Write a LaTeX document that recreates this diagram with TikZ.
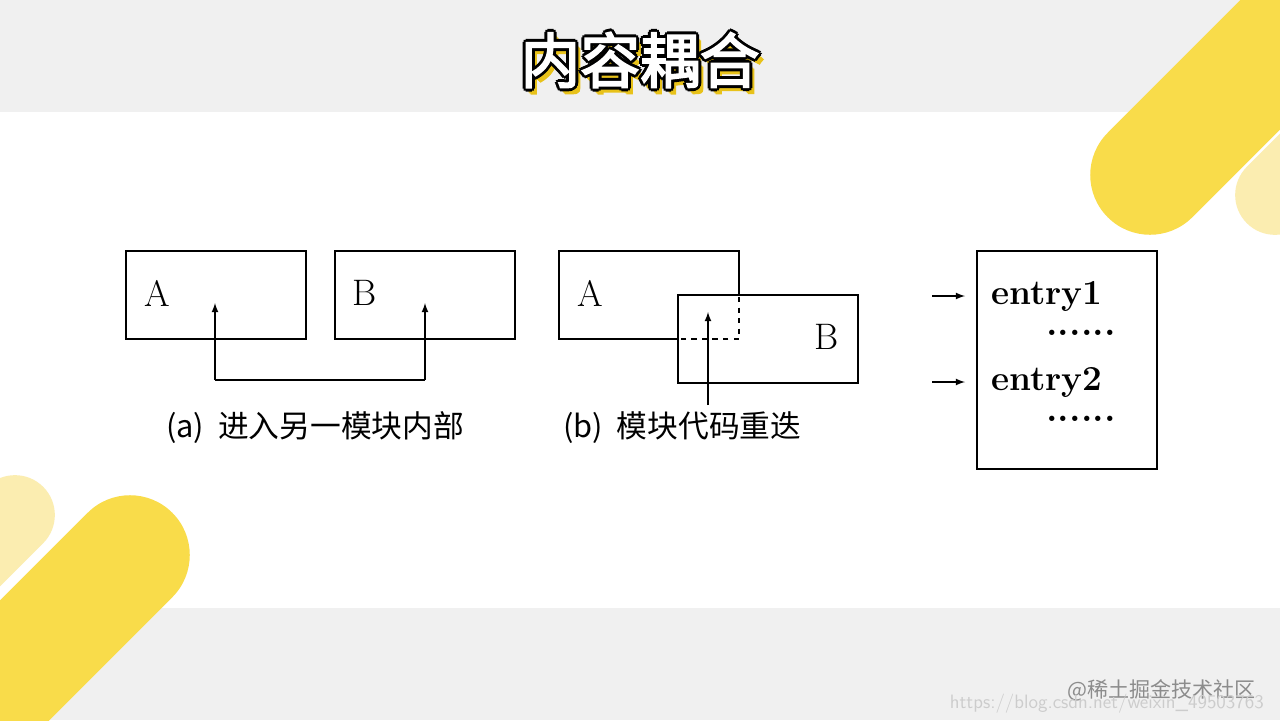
\documentclass[tikz,border=0pt]{standalone}
\usepackage{fontspec}
\usepackage{tikz}
\newfontfamily\cjk{Noto Sans CJK SC}
\newfontfamily\cjkbold{Noto Sans CJK SC}[BoldFont=*,BoldFeatures={FakeBold=3}]
\definecolor{bandgray}{HTML}{F0F0F0}
\definecolor{stripe}{HTML}{F9DC4A}
\definecolor{stripelight}{HTML}{FBEDB0}
\definecolor{shadowyellow}{HTML}{E8C21A}
\tikzset{
  modbox/.style={draw, line width=1.6pt, fill=white},
  lbl/.style={font=\fontsize{21}{21}\selectfont},
  captext/.style={font=\cjk\fontsize{17.5}{17.5}\selectfont, anchor=west},
  link/.style={line width=0.8pt, -latex},
  titletext/.style={font=\cjkbold\bfseries\fontsize{34}{34}\selectfont},
}
\begin{document}
\begin{tikzpicture}[x=0.02cm, y=-0.02cm]
          % background
          \fill [white] (0,0) rectangle (1280,720);
          \fill [bandgray] (0,0) rectangle (1280,112);
          \fill [bandgray] (0,608) rectangle (1280,720);
          \begin{scope}
            \clip (0,0) rectangle (1280,720);
            \draw [stripelight, line width=80pt*0.567, line cap=round] (1275,195) -- (1400,70);
            \draw [stripe, line width=120pt*0.567, line cap=round] (1150,175) -- (1330,-5);
            \draw [stripelight, line width=80pt*0.567, line cap=round] (15,515) -- (-100,630);
            \draw [stripe, line width=120pt*0.567, line cap=round] (130,555) -- (-60,745);
          \end{scope}
          % title
          \foreach \dx/\dy in {3/4,4/5,5/6} {
            \node [shadowyellow, titletext] at (640+\dx,60+\dy) {内容耦合};
          }
          \foreach \dx/\dy in {-3/0,3/0,0/-3,0/3,-2/-2,2/2,-2/2,2/-2} {
            \node [black, titletext] at (640+\dx,60+\dy) {内容耦合};
          }
          \node (title) [white, titletext] at (640,60) {内容耦合};
          % (a)
          \node (aA) [modbox, minimum width=3.6cm, minimum height=1.76cm] at (216,295) {};
          \node (aB) [modbox, minimum width=3.6cm, minimum height=1.76cm] at (425,295) {};
          \node [lbl] at (157,293) {A};
          \node [lbl] at (365,293) {B};
          \coordinate (aL) at (215,380);
          \coordinate (aR) at (425,380);
          \draw [link] (aL) -- (215,303);
          \draw [line width=0.8pt] (aL) -- (aR);
          \draw [link] (aR) -- (425,303);
          \node (capa) [captext] at (160,428) {(a)\ \ 进入另一模块内部};
          % (b)
          \node (bA) [modbox, minimum width=3.6cm, minimum height=1.76cm] at (649,295) {};
          \node (bB) [modbox, minimum width=3.6cm, minimum height=1.76cm] at (768,339) {};
          \draw [dashed, line width=1pt] (739,297) -- (739,339) -- (679,339);
          \node [lbl] at (590,293) {A};
          \node [lbl] at (827,337) {B};
          \coordinate (bS) at (708,405);
          \draw [link] (bS) -- (708,312);
          \node (capb) [captext] at (557,428) {(b)\ \ 模块代码重迭};
          % entries
          \node (cE) [modbox, minimum width=3.6cm, minimum height=4.36cm] at (1067,360) {};
          \node (e1) [lbl, anchor=west, font=\bfseries\fontsize{20}{20}\selectfont] at (985,296) {entry1};
          \node [lbl] at (1081,333) {\bfseries......};
          \node (e2) [lbl, anchor=west, font=\bfseries\fontsize{20}{20}\selectfont] at (985,382) {entry2};
          \node [lbl] at (1081,419) {\bfseries......};
          \coordinate (p1) at (932,296);
          \coordinate (p2) at (932,382);
          \draw [line width=0.8pt, -latex] (p1) -- ([xshift=-0.4cm]e1.west);
          \draw [line width=0.8pt, -latex] (p2) -- ([xshift=-0.4cm]e2.west);
          % watermark
          \node [black!45, font=\cjk\fontsize{12}{12}\selectfont, anchor=east] at (1262,690) {@稀土掘金技术社区};
          \node [black!20, font=\sffamily\fontsize{11}{11}\selectfont, anchor=east] at (1270,704) {https://blog.csdn.net/weixin\_49503763};
        \end{tikzpicture}
\end{document}
